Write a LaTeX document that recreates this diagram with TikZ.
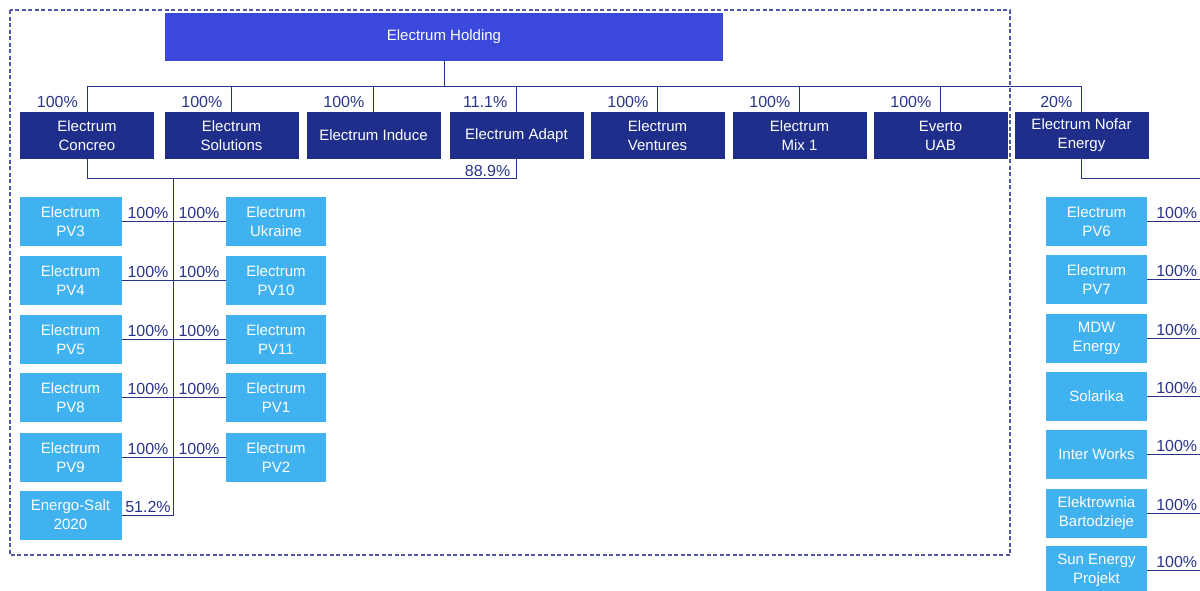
\documentclass[tikz,border=0pt]{standalone}
\usepackage{fontspec}
\setmainfont{Liberation Sans}
\usetikzlibrary{positioning}

\definecolor{holdblue}{RGB}{58,72,220}
\definecolor{navy}{RGB}{30,46,138}
\definecolor{skyblue}{RGB}{64,178,240}
\definecolor{linecol}{RGB}{40,52,140}
\definecolor{dashcol}{RGB}{80,86,170}

\begin{document}
\begin{tikzpicture}[x=1pt, y=-1pt, font=\fontsize{15}{19}\selectfont,
    parent/.style={rectangle, fill=navy, text=white, minimum width=134pt, minimum height=47pt, align=center, inner sep=0pt},
    pv/.style={rectangle, fill=skyblue, text=white, minimum width=102pt, minimum height=49pt, align=center, inner sep=0pt},
    link/.style={draw=linecol, line width=1pt},
    pct/.style={text=linecol, inner sep=1pt, font=\fontsize{16}{19}\selectfont}]
    \useasboundingbox (0,0) rectangle (1200,590);
    \clip (0,0) rectangle (1200,590);

    % Group border
    \draw[dashcol, line width=1.2pt, dash pattern=on 4pt off 2.5pt] (10,10) rectangle (1010,555);

    % Holding
    \node[rectangle, fill=holdblue, text=white, minimum width=558pt, minimum height=48pt, inner sep=0pt] (H) at (444,37) {Electrum Holding};

    % First level
    \foreach \i/\x/\t in {1/87/{Electrum\\Concreo}, 2/231.5/{Electrum\\Solutions}, 3/373.5/{Electrum Induce},
                          4/516.5/{Electrum Adapt}, 5/657.5/{Electrum\\Ventures}, 6/799.5/{Electrum\\Mix 1},
                          7/940.5/{Everto\\UAB}, 8/1081.5/{Electrum Nofar\\Energy}}
        \node[parent] (L\i) at (\x,135.5) {\t};

    % Left column
    \foreach \i/\y/\t in {1/221.5/{Electrum\\PV3}, 2/280.5/{Electrum\\PV4}, 3/339.5/{Electrum\\PV5},
                          4/397.5/{Electrum\\PV8}, 5/457.5/{Electrum\\PV9}, 6/515/{Energo-Salt\\2020}}
        \node[pv] (A\i) at (70.5,\y) {\t};

    % Middle column
    \foreach \i/\y/\t in {1/221.5/{Electrum\\Ukraine}, 2/280.5/{Electrum\\PV10}, 3/339.5/{Electrum\\PV11},
                          4/397.5/{Electrum\\PV1}, 5/457.5/{Electrum\\PV2}}
        \node[pv, minimum width=100pt] (B\i) at (276,\y) {\t};

    % Right column
    \foreach \i/\y/\t in {1/221.5/{Electrum\\PV6}, 2/279.5/{Electrum\\PV7}, 3/338.5/{MDW\\Energy},
                          4/396.5/{Solarika}, 5/454.5/{Inter Works}, 6/513.5/{Elektrownia\\Bartodzieje},
                          7/570.5/{Sun Energy\\Projekt}}
        \node[pv, minimum width=101pt] (C\i) at (1096.5,\y) {\t};

    % Holding to first level
    \draw[link] (H.south) -- ++(0,26);
    \draw[link] (L1.north) -- ++(0,-25) -| (L8.north);
    \foreach \i in {2,...,7}
        \draw[link] (L\i.north) -- ++(0,-25);
    \foreach \i/\p in {1/100\%, 2/100\%, 3/100\%, 4/11.1\%, 5/100\%, 6/100\%, 7/100\%, 8/20\%}
        \node[pct, anchor=south east] at ([xshift=-8pt, yshift=3pt]L\i.north) {\p};

    % Concreo and Adapt
    \draw[link] (L1.south) -- ++(0,19) -| (L4.south);
    \node[pct, anchor=south east] at ([xshift=-5pt, yshift=-19pt]L4.south) {88.9\%};
    \coordinate (T) at (173,178);
    \draw[link] (T) |- (A6.east);
    \foreach \i in {1,...,5}
        \draw[link] (A\i.east) -- (B\i.west);
    \foreach \i/\y in {1/220, 2/279, 3/338, 4/396, 5/456} {
        \node[pct, anchor=south] at (148,\y) {100\%};
        \node[pct, anchor=south] at (199,\y) {100\%};
    }
    \node[pct, anchor=south] at (148,514) {51.2\%};

    % Nofar
    \coordinate (E) at (1200,178);
    \draw[link] (L8.south) |- (E);
    \foreach \i in {1,...,7}
        \draw[link] (C\i.east) -- ++(55,0) node[pct, midway, anchor=south, xshift=2pt, yshift=1pt] {100\%};
\end{tikzpicture}
\end{document}
